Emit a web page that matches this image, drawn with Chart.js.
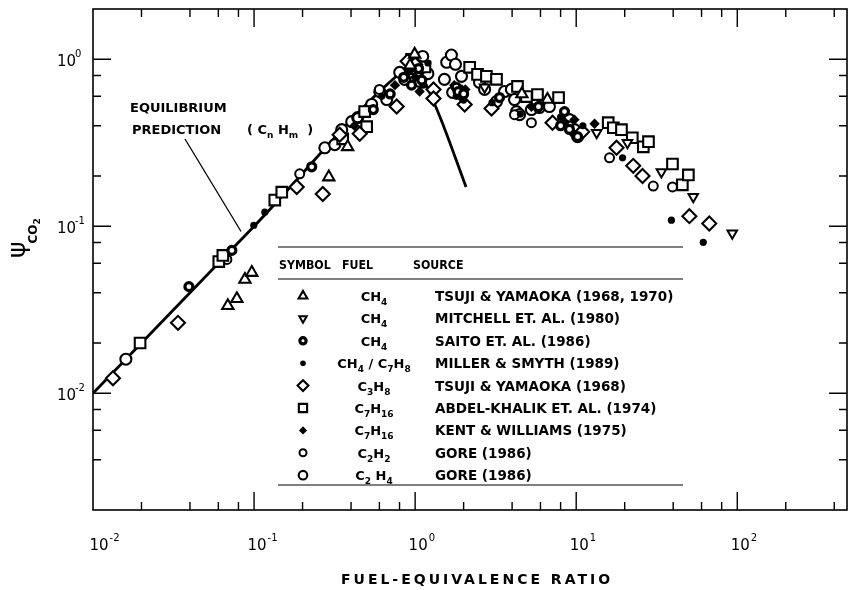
<!DOCTYPE html>
<html>
<head>
<meta charset="utf-8">
<script src="https://cdn.jsdelivr.net/npm/chart.js@4.4.0/dist/chart.umd.min.js"></script>
<style>
  html, body { margin: 0; padding: 0; background: #fff; }
  #wrap { width: 848px; height: 590px; }
</style>
</head>
<body>
<div id="wrap"><canvas id="psiChart" width="848" height="590"></canvas></div>
<script>
// Zakresy osi (skala logarytmiczna)
const xRange = [0.01, 480];
const yRange = [0.002, 2];
const xLabelExps = [-2, -1, 0, 1, 2];
const yLabelExps = [-2, -1, 0];
const minorMults = [2, 4, 6, 8];

// Krzywa rownowagowa (CnHm)
const eqPhi = [0.01, 0.1, 0.9, 1.0, 1.1, 1.2, 1.3, 1.53, 1.77, 2.07];
const eqPsi = [0.01, 0.1, 0.9, 0.95, 0.8, 0.67, 0.56, 0.38, 0.26, 0.172];

// Dane pomiarowe [phi, psi]
const tsujiCH4 = [[0.0687, 0.0334], [0.0782, 0.0368], [0.0877, 0.048], [0.0968, 0.0528], [0.291, 0.197],
    [0.381, 0.299], [0.993, 1.07], [0.93, 0.92], [4.6, 0.62], [6.63, 0.574]];
const mitchellCH4 = [[2.7, 0.68], [13.4, 0.363], [20.8, 0.316], [33.8, 0.211], [53.3, 0.150], [93.1, 0.0907]];
const saitoCH4 = [[0.0394, 0.0435], [0.0728, 0.0717], [0.228, 0.227], [0.55, 0.50], [0.70, 0.62], [0.85, 0.78],
    [0.95, 0.70], [1.05, 0.88], [1.10, 0.75], [1.80, 0.68], [1.85, 0.64], [2.00, 0.62], [3.34, 0.59],
    [5.83, 0.52], [8.0, 0.40], [8.46, 0.486], [9.08, 0.38], [10.2, 0.344]];
const millerCH4C7H8 = [[0.0996, 0.1014], [0.1166, 0.1214], [0.62, 0.60], [0.97, 0.88], [1.12, 0.70], [1.2, 0.95],
    [1.8, 0.60], [2.0, 0.57], [3.0, 0.55], [4.5, 0.47], [8.0, 0.45], [9.5, 0.36], [11.0, 0.40], [19.4, 0.257],
    [39.0, 0.1087], [61.5, 0.0801]];
const tsujiC3H8 = [[0.0133, 0.0123], [0.0337, 0.0264], [0.184, 0.172], [0.267, 0.156], [0.340, 0.353],
    [0.453, 0.358], [0.768, 0.521], [0.898, 0.973], [1.0, 0.93], [1.30, 0.660], [1.30, 0.582], [2.03, 0.536],
    [2.98, 0.507], [7.13, 0.417], [10.9, 0.368], [17.8, 0.295], [22.6, 0.230], [25.8, 0.200], [50.4, 0.115],
    [67.0, 0.104]];
const abdelC7H16 = [[0.0196, 0.0200], [0.0604, 0.0615], [0.064, 0.0669], [0.1345, 0.1435], [0.1486, 0.160],
    [0.355, 0.334], [0.486, 0.486], [0.500, 0.395], [0.95, 1.0], [1.15, 0.9], [2.18, 0.895], [2.44, 0.812],
    [2.77, 0.790], [3.20, 0.758], [4.32, 0.688], [4.91, 0.598], [5.75, 0.615], [7.77, 0.590], [15.8, 0.417],
    [17.0, 0.389], [19.1, 0.379], [22.3, 0.339], [26.1, 0.299], [28.1, 0.321], [39.6, 0.236], [45.6, 0.177],
    [49.7, 0.203]];
const kentC7H16 = [[0.42, 0.40], [0.75, 0.70], [0.92, 0.85], [1.0, 0.78], [1.066, 0.641], [1.08, 0.93],
    [1.10, 0.85], [1.75, 0.70], [1.9, 0.60], [1.95, 0.66], [2.05, 0.66], [5.27, 0.52], [8.5, 0.42],
    [9.75, 0.435], [13.0, 0.411]];
const goreC2H2 = [[0.0678, 0.0633], [0.192, 0.206], [0.44, 0.447], [0.60, 0.66], [4.14, 0.466], [5.27, 0.417],
    [9.0, 0.40], [16.1, 0.257], [30.1, 0.174], [39.6, 0.172]];
const goreC2H4 = [[0.016, 0.016], [0.275, 0.295], [0.317, 0.308], [0.350, 0.379], [0.404, 0.423], [0.440, 0.447],
    [0.537, 0.536], [0.603, 0.641], [0.666, 0.574], [0.802, 0.835], [0.861, 0.758], [0.95, 0.88], [1.066, 0.737],
    [1.114, 1.04], [1.2, 0.82], [1.52, 0.758], [1.57, 0.959], [1.68, 1.06], [1.71, 0.633], [1.78, 0.933],
    [1.94, 0.790], [2.51, 0.727], [2.70, 0.660], [3.20, 0.558], [3.59, 0.641], [3.96, 0.660], [4.14, 0.574],
    [4.26, 0.486], [4.45, 0.466], [5.27, 0.500], [5.91, 0.514], [6.82, 0.521], [8.83, 0.423], [9.08, 0.435],
    [9.75, 0.379], [10.2, 0.344]];

// Tabela legendy
const legendHeader = ['SYMBOL', 'FUEL', 'SOURCE'];
const legendFuels = [
    [['CH', 'n'], ['4', 'sub']],
    [['CH', 'n'], ['4', 'sub']],
    [['CH', 'n'], ['4', 'sub']],
    [['CH', 'n'], ['4', 'sub'], [' / C', 'n'], ['7', 'sub'], ['H', 'n'], ['8', 'sub']],
    [['C', 'n'], ['3', 'sub'], ['H', 'n'], ['8', 'sub']],
    [['C', 'n'], ['7', 'sub'], ['H', 'n'], ['16', 'sub']],
    [['C', 'n'], ['7', 'sub'], ['H', 'n'], ['16', 'sub']],
    [['C', 'n'], ['2', 'sub'], ['H', 'n'], ['2', 'sub']],
    [['C', 'n'], ['2', 'sub'], [' H', 'n'], ['4', 'sub']]
];
const legendSources = [
    'TSUJI & YAMAOKA (1968, 1970)',
    'MITCHELL ET. AL. (1980)',
    'SAITO ET. AL. (1986)',
    'MILLER & SMYTH (1989)',
    'TSUJI & YAMAOKA (1968)',
    'ABDEL-KHALIK ET. AL. (1974)',
    'KENT & WILLIAMS (1975)',
    'GORE (1986)',
    'GORE (1986)'
];

// Style znacznikow dla kolejnych serii
const series = [
    { data: tsujiCH4, style: 'triangle', r: 6.5, rot: 0, fill: '#fff', bw: 2.1 },
    { data: mitchellCH4, style: 'triangle', r: 5.5, rot: 180, fill: '#fff', bw: 2 },
    { data: saitoCH4, style: 'circle', r: 4, rot: 0, fill: '#fff', bw: 3.2 },
    { data: millerCH4C7H8, style: 'circle', r: 3.6, rot: 0, fill: '#000', bw: 0 },
    { data: tsujiC3H8, style: 'rectRot', r: 7, rot: 0, fill: '#fff', bw: 2.1 },
    { data: abdelC7H16, style: 'rect', r: 7.5, rot: 0, fill: '#fff', bw: 2.1 },
    { data: kentC7H16, style: 'rectRot', r: 5.2, rot: 0, fill: '#000', bw: 0 },
    { data: goreC2H2, style: 'circle', r: 4.5, rot: 0, fill: '#fff', bw: 2 },
    { data: goreC2H4, style: 'circle', r: 5.5, rot: 0, fill: '#fff', bw: 2.1 }
];

const FONT = '"DejaVu Sans", Arial, sans-serif';

// Rysowanie tekstu z indeksami dolnymi / gornymi
function drawParts(ctx, parts, x, y, size, weight, align) {
    const fontFor = k => weight + ' ' + (k === 'n' ? size : Math.round(size * 0.72)) + 'px ' + FONT;
    let total = 0;
    parts.forEach(p => { ctx.font = fontFor(p[1]); total += ctx.measureText(p[0]).width; });
    let cx = align === 'center' ? x - total / 2 : (align === 'right' ? x - total : x);
    ctx.textAlign = 'left';
    parts.forEach(p => {
        ctx.font = fontFor(p[1]);
        const dy = p[1] === 'sub' ? size * 0.3 : (p[1] === 'sup' ? -size * 0.5 : 0);
        ctx.fillText(p[0], cx, y + dy);
        cx += ctx.measureText(p[0]).width;
    });
}

const frameAndText = {
    id: 'frameAndText',
    afterDatasetsDraw(chart) {
        const ctx = chart.ctx;
        const a = chart.chartArea;
        const xs = chart.scales.x, ys = chart.scales.y;
        ctx.save();
        ctx.strokeStyle = '#000';
        ctx.fillStyle = '#000';
        ctx.lineWidth = 1.6;
        ctx.strokeRect(a.left, a.top, a.right - a.left, a.bottom - a.top);

        // podzialki skierowane do srodka, na wszystkich czterech bokach
        ctx.lineWidth = 1.4;
        for (let e = -3; e <= 3; e++) {
            [1].concat(minorMults).forEach(m => {
                const v = m * Math.pow(10, e);
                const len = m === 1 ? 18 : 8;
                if (v > xRange[0] * 1.001 && v < xRange[1] * 0.999) {
                    const px = xs.getPixelForValue(v);
                    ctx.beginPath();
                    ctx.moveTo(px, a.bottom); ctx.lineTo(px, a.bottom - len);
                    ctx.moveTo(px, a.top); ctx.lineTo(px, a.top + len);
                    ctx.stroke();
                }
                if (v > yRange[0] * 1.001 && v < yRange[1] * 0.999) {
                    const py = ys.getPixelForValue(v);
                    ctx.beginPath();
                    ctx.moveTo(a.left, py); ctx.lineTo(a.left + len, py);
                    ctx.moveTo(a.right, py); ctx.lineTo(a.right - len, py);
                    ctx.stroke();
                }
            });
        }

        // etykiety osi
        ctx.textBaseline = 'alphabetic';
        ctx.textAlign = 'left';
        xLabelExps.forEach(e => {
            const px = xs.getPixelForValue(Math.pow(10, e)) + (e === -2 ? 6 : 3);
            ctx.font = '15px ' + FONT;
            const w10 = ctx.measureText('10').width;
            ctx.fillText('10', px - w10 / 2, 550);
            ctx.font = '10px ' + FONT;
            ctx.fillText(e < 0 ? '-' + (-e) : String(e), px + 1 + w10 / 2, 541);
        });
        yLabelExps.forEach(e => {
            const py = ys.getPixelForValue(Math.pow(10, e));
            ctx.font = '15px ' + FONT;
            ctx.fillText('10', 57, py + 7);
            ctx.font = '10px ' + FONT;
            ctx.fillText(e < 0 ? '-' + (-e) : String(e), 75, py - 2);
        });

        // tytul osi X
        ctx.font = 'bold 14px ' + FONT;
        ctx.letterSpacing = '3px';
        ctx.textAlign = 'center';
        ctx.fillText('FUEL-EQUIVALENCE RATIO', 477, 584);
        ctx.letterSpacing = '0px';

        // tytul osi Y (psi_CO2)
        ctx.save();
        ctx.translate(25, 258);
        ctx.rotate(-Math.PI / 2);
        ctx.textAlign = 'left';
        ctx.font = '25px ' + FONT;
        ctx.fillText('\u03C8', 0, 0);
        const wPsi = ctx.measureText('\u03C8').width;
        ctx.font = 'bold 12px ' + FONT;
        ctx.fillText('CO', wPsi - 2, 12);
        const wCO = ctx.measureText('CO').width;
        ctx.font = 'bold 9px ' + FONT;
        ctx.fillText('2', wPsi + wCO - 2, 15);
        ctx.restore();

        // opis krzywej rownowagowej
        ctx.textAlign = 'left';
        ctx.font = 'bold 13px ' + FONT;
        ctx.fillText('EQUILIBRIUM', 130, 112);
        ctx.fillText('PREDICTION', 132, 134);
        drawParts(ctx, [['(', 'n'], [' C', 'n'], ['n', 'sub'], [' H', 'n'], ['m', 'sub'], ['  )', 'n']], 247, 134, 13, 'bold', 'left');
        ctx.lineWidth = 1.3;
        ctx.beginPath();
        ctx.moveTo(185, 139);
        ctx.lineTo(xs.getPixelForValue(0.083), ys.getPixelForValue(0.093));
        ctx.stroke();

        // tabela legendy
        const tl = 278, tr = 683;
        const rowY0 = 296, rowGap = 22.4;
        ctx.lineWidth = 1.2;
        [247, 279, 485].forEach(yy => {
            ctx.beginPath(); ctx.moveTo(tl, yy); ctx.lineTo(tr, yy); ctx.stroke();
        });
        ctx.font = 'bold 12px ' + FONT;
        [[279, legendHeader[0]], [342, legendHeader[1]], [413, legendHeader[2]]].forEach(h => {
            ctx.save();
            ctx.translate(h[0], 269);
            ctx.scale(0.92, 1);
            ctx.fillText(h[1], 0, 0);
            ctx.restore();
        });
        series.forEach((s, i) => {
            const yy = rowY0 + i * rowGap;
            ctx.fillStyle = s.fill;
            ctx.strokeStyle = '#000';
            ctx.lineWidth = s.bw;
            Chart.helpers.drawPoint(ctx, {
                pointStyle: s.style, radius: s.r * 0.78, rotation: s.rot, borderWidth: s.bw
            }, 303, yy);
            ctx.fillStyle = '#000';
            drawParts(ctx, legendFuels[i], 374, yy + 5, 13, 'bold', 'center');
            ctx.font = 'bold 13.5px ' + FONT;
            ctx.textAlign = 'left';
            ctx.fillText(legendSources[i], 435, yy + 5);
        });
        ctx.restore();
    }
};

const datasets = series.map(s => ({
    data: s.data.map(p => ({ x: p[0], y: p[1] })),
    pointStyle: s.style,
    pointRadius: s.r,
    pointRotation: s.rot,
    pointBackgroundColor: s.fill,
    pointBorderColor: '#000',
    pointBorderWidth: s.bw,
    showLine: false
}));
datasets.push({
    data: eqPhi.map((v, i) => ({ x: v, y: eqPsi[i] })),
    showLine: true,
    borderColor: '#000',
    borderWidth: 2.8,
    pointRadius: 0,
    cubicInterpolationMode: 'monotone',
    fill: false
});

new Chart(document.getElementById('psiChart').getContext('2d'), {
    type: 'scatter',
    data: { datasets: datasets },
    options: {
        responsive: false,
        animation: false,
        layout: { autoPadding: false, padding: { left: 93, top: 9, right: 1, bottom: 80 } },
        scales: {
            x: { type: 'logarithmic', min: xRange[0], max: xRange[1], display: false },
            y: { type: 'logarithmic', min: yRange[0], max: yRange[1], display: false }
        },
        plugins: { legend: { display: false }, tooltip: { enabled: false } }
    },
    plugins: [frameAndText]
});
</script>
</body>
</html>
